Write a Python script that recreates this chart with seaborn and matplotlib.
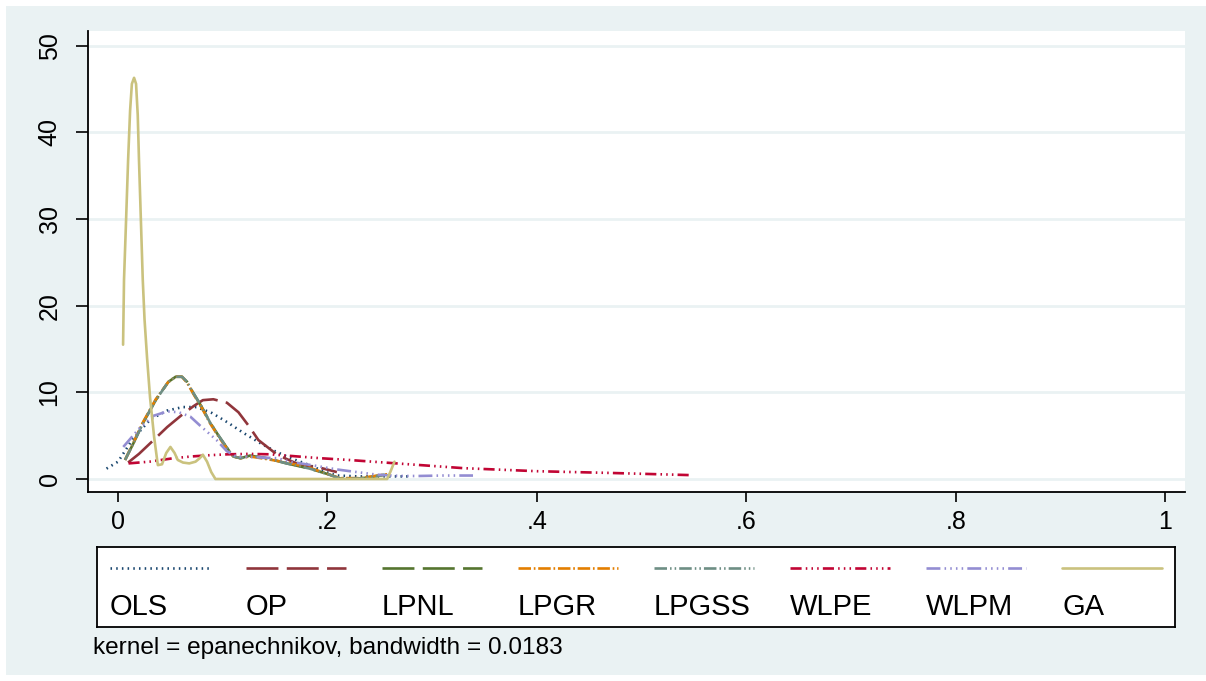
import matplotlib
matplotlib.use("Agg")
import matplotlib.pyplot as plt
from matplotlib.patches import Rectangle
import pandas as pd
import seaborn as sns

# Kernel density estimates of the productivity measures, one curve per method
methods = ["OLS", "OP", "LPNL", "LPGR", "LPGSS", "WLPE", "WLPM", "GA"]

ols_x = [-0.011, 0.0, 0.014, 0.031, 0.047, 0.062, 0.075, 0.090, 0.105, 0.120,
         0.135, 0.150, 0.165, 0.183, 0.196, 0.209, 0.230, 0.250, 0.280]
ols_y = [1.2, 2.0, 4.6, 6.9, 7.9, 8.3, 8.3, 7.6, 6.5, 5.3,
         4.2, 3.2, 2.4, 1.6, 0.9, 0.4, 0.3, 0.3, 0.3]

op_x = [0.0096, 0.020, 0.034, 0.047, 0.061, 0.072, 0.081, 0.091, 0.104, 0.115,
        0.125, 0.134, 0.152, 0.174, 0.193, 0.209]
op_y = [1.9, 2.9, 4.5, 6.0, 7.4, 8.4, 9.1, 9.2, 8.8, 7.7,
        6.1, 4.5, 2.8, 1.6, 1.3, 0.8]

lpnl_x = [0.0067, 0.015, 0.024, 0.036, 0.048, 0.055, 0.061, 0.066, 0.072, 0.080,
          0.088, 0.096, 0.104, 0.110, 0.117, 0.126, 0.142, 0.161, 0.183, 0.202,
          0.212, 0.231, 0.245, 0.255]
lpnl_y = [2.2, 4.2, 6.5, 9.1, 11.2, 11.8, 11.8, 11.2, 9.9, 8.3,
          6.5, 5.0, 3.6, 2.6, 2.4, 2.7, 2.4, 1.8, 1.2, 0.5,
          0.05, 0.05, 0.3, 0.5]

lpgr_x = [0.0067, 0.015, 0.024, 0.036, 0.048, 0.055, 0.061, 0.066, 0.072, 0.080,
          0.088, 0.096, 0.104, 0.110, 0.117, 0.126, 0.142, 0.161, 0.183, 0.202,
          0.212, 0.231, 0.245, 0.257]
lpgr_y = [2.2, 4.3, 6.6, 9.2, 11.2, 11.8, 11.8, 11.1, 9.8, 8.2,
          6.4, 4.9, 3.5, 2.6, 2.4, 2.6, 2.3, 1.9, 1.3, 0.5,
          0.1, 0.1, 0.35, 0.55]

lpgss_x = [0.0067, 0.015, 0.024, 0.036, 0.048, 0.055, 0.061, 0.066, 0.072, 0.080,
           0.088, 0.096, 0.104, 0.110, 0.117, 0.126, 0.142, 0.161, 0.183, 0.202,
           0.212, 0.231, 0.245, 0.255]
lpgss_y = [2.2, 4.2, 6.5, 9.1, 11.2, 11.8, 11.8, 11.2, 9.9, 8.3,
           6.5, 5.0, 3.6, 2.6, 2.4, 2.7, 2.4, 1.8, 1.2, 0.5,
           0.05, 0.05, 0.3, 0.5]

wlpe_x = [0.010, 0.030, 0.053, 0.070, 0.088, 0.105, 0.125, 0.145, 0.161, 0.193,
          0.220, 0.266, 0.330, 0.400, 0.470, 0.546]
wlpe_y = [1.8, 2.0, 2.4, 2.6, 2.75, 2.85, 2.9, 2.85, 2.7, 2.4,
          2.2, 1.8, 1.25, 0.9, 0.7, 0.45]

wlpm_x = [0.005, 0.020, 0.034, 0.047, 0.058, 0.069, 0.078, 0.094, 0.104, 0.113,
          0.133, 0.152, 0.164, 0.190, 0.209, 0.228, 0.247, 0.270, 0.288, 0.310,
          0.330, 0.339]
wlpm_y = [3.7, 5.8, 7.3, 7.8, 7.7, 7.2, 6.2, 4.5, 3.2, 2.6,
          2.5, 2.4, 2.0, 1.5, 1.1, 0.8, 0.5, 0.35, 0.35, 0.4,
          0.4, 0.4]

ga_x = [0.0048, 0.0057, 0.0077, 0.0096, 0.0115, 0.0132, 0.0153, 0.0172, 0.0188,
        0.0200, 0.0236, 0.0253, 0.0277, 0.0306, 0.0345, 0.0380, 0.0420, 0.0460,
        0.0500, 0.0540, 0.0570, 0.0620, 0.0680, 0.0740, 0.0780, 0.0810, 0.0850,
        0.0890, 0.0930, 0.2570, 0.2600, 0.2640]
ga_y = [15.5, 23.0, 30.0, 36.8, 42.5, 45.6, 46.3, 45.6, 42.0,
        36.8, 23.0, 18.4, 14.0, 9.35, 4.8, 1.6, 1.7, 3.0,
        3.7, 3.0, 2.2, 1.9, 1.8, 2.0, 2.4, 2.8, 2.0,
        0.8, 0.0, 0.0, 0.8, 2.0]

x_ticks = [0, 0.2, 0.4, 0.6, 0.8, 1.0]
x_tick_labels = ["0", ".2", ".4", ".6", ".8", "1"]
y_ticks = [0, 10, 20, 30, 40, 50]
y_tick_labels = ["0", "10", "20", "30", "40", "50"]
note_text = "kernel = epanechnikov, bandwidth = 0.0183"

series = {
    "OLS": (ols_x, ols_y), "OP": (op_x, op_y), "LPNL": (lpnl_x, lpnl_y),
    "LPGR": (lpgr_x, lpgr_y), "LPGSS": (lpgss_x, lpgss_y), "WLPE": (wlpe_x, wlpe_y),
    "WLPM": (wlpm_x, wlpm_y), "GA": (ga_x, ga_y),
}
frames = [pd.DataFrame({"x": xs, "density": ys, "method": m})
          for m, (xs, ys) in series.items()]
df = pd.concat(frames, ignore_index=True)

colors = {
    "OLS": "#1A476F", "OP": "#90353B", "LPNL": "#55752F", "LPGR": "#E37E00",
    "LPGSS": "#6E8E84", "WLPE": "#C10534", "WLPM": "#938DD2", "GA": "#CAC27E",
}
# dash patterns in points (on, off, ...)
styles = {
    "OLS": (0, (1.1, 3.0)),
    "OP": (0, (23, 6)),
    "LPNL": (0, (23, 6)),
    "LPGR": (0, (9, 2, 1.2, 2)),
    "LPGSS": (0, (9, 2.2, 1.1, 2.2, 1.1, 2.2)),
    "WLPE": (0, (8, 3, 1.1, 3, 1.1, 3, 1.1, 3)),
    "WLPM": (0, (10, 3, 1.1, 3, 1.1, 3, 1.1, 3, 1.1, 3)),
    "GA": "-",
}

sns.set_theme(style="white")
plt.rcParams["font.family"] = ["Liberation Sans", "DejaVu Sans"]
plt.rcParams["lines.scale_dashes"] = False

W, H = 1206, 681
fig = plt.figure(figsize=(W / 100, H / 100), dpi=100, facecolor="white")
fig.patches.append(Rectangle((6 / W, 6 / H), (W - 6) / W, (675 - 6) / H,
                             transform=fig.transFigure, facecolor="#EAF2F3",
                             edgecolor="none", zorder=-10))

ax = fig.add_axes([88 / W, 1 - 492 / H, (1185 - 88) / W, (492 - 31) / H])
ax.set_facecolor("white")

for m in methods:
    sub = df[df["method"] == m]
    sns.lineplot(data=sub, x="x", y="density", ax=ax, color=colors[m],
                 linestyle=styles[m], linewidth=1.9, estimator=None,
                 sort=False, legend=False)

ax.set_xlim(-0.0287, 1.019)
ax.set_ylim(-1.5, 51.7)
ax.set_xticks(x_ticks)
ax.set_xticklabels(x_tick_labels)
ax.set_yticks(y_ticks)
ax.set_yticklabels(y_tick_labels, rotation=90, va="center")
ax.set_xlabel("")
ax.set_ylabel("")
ax.yaxis.grid(True, color="#EAF2F3", linewidth=2)
ax.xaxis.grid(False)
ax.set_axisbelow(True)
for s in ["top", "right"]:
    ax.spines[s].set_visible(False)
for s in ["left", "bottom"]:
    ax.spines[s].set_color("black")
    ax.spines[s].set_linewidth(1.3)
ax.tick_params(axis="y", direction="out", length=9, width=1.2, pad=10,
               labelsize=18, colors="black", left=True)
ax.tick_params(axis="x", direction="out", length=7, width=1.2, pad=6,
               labelsize=18, colors="black", bottom=True)

# legend box: key on top row, label below
lax = fig.add_axes([97 / W, 1 - 627 / H, (1175 - 97) / W, (627 - 547) / H])
lax.set_xlim(97, 1175)
lax.set_ylim(627, 547)
lax.set_facecolor("white")
lax.set_xticks([])
lax.set_yticks([])
for s in lax.spines.values():
    s.set_color("black")
    s.set_linewidth(1.3)
for i, m in enumerate(methods):
    x0 = 110 + 136 * i
    lax.plot([x0, x0 + 100], [568, 568], color=colors[m], linestyle=styles[m],
             linewidth=1.9)
    lax.text(x0, 607, m, fontsize=21, va="center", ha="left", color="black")

fig.text(93 / W, 1 - 648 / H, note_text, fontsize=17.6, va="center", ha="left",
         color="black")

fig.savefig("out.png", dpi=100, facecolor=fig.get_facecolor())
